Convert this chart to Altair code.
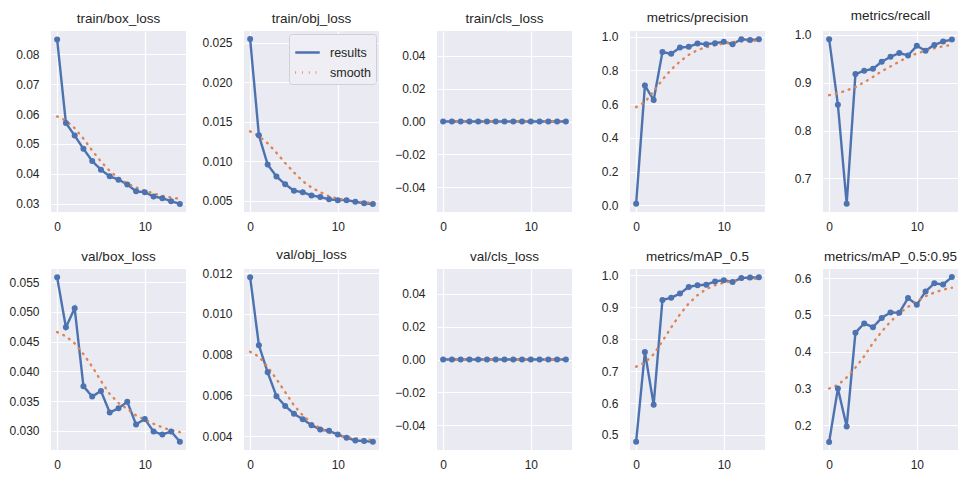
import altair as alt
import pandas as pd

epochs = list(range(15))

train_box_loss = [0.0849, 0.0570, 0.0528, 0.0484, 0.0443, 0.0414, 0.0392, 0.0381, 0.0365, 0.0342, 0.0339, 0.0325, 0.0319, 0.0309, 0.0300]
train_box_loss_smooth = [0.0592, 0.0578, 0.0553, 0.0518, 0.0478, 0.0441, 0.0410, 0.0386, 0.0368, 0.0355, 0.0344, 0.0335, 0.0327, 0.0321, 0.0317]

train_obj_loss = [0.0255, 0.0133, 0.0096, 0.0081, 0.0071, 0.0063, 0.0061, 0.0057, 0.0055, 0.0052, 0.0051, 0.0051, 0.0049, 0.0047, 0.0046]
train_obj_loss_smooth = [0.0138, 0.0132, 0.0123, 0.0111, 0.0098, 0.0086, 0.0075, 0.0067, 0.0061, 0.0056, 0.0053, 0.0051, 0.0050, 0.0048, 0.0048]

train_cls_loss = [0.0] * 15
train_cls_loss_smooth = [0.0] * 15

precision = [0.010, 0.710, 0.624, 0.908, 0.898, 0.935, 0.939, 0.959, 0.955, 0.961, 0.969, 0.955, 0.984, 0.980, 0.984]
precision_smooth = [0.582, 0.612, 0.676, 0.745, 0.804, 0.853, 0.892, 0.920, 0.937, 0.949, 0.959, 0.967, 0.971, 0.975, 0.976]

recall = [0.991, 0.854, 0.647, 0.918, 0.925, 0.929, 0.944, 0.954, 0.962, 0.957, 0.977, 0.967, 0.979, 0.986, 0.990]
recall_smooth = [0.874, 0.878, 0.884, 0.891, 0.901, 0.912, 0.924, 0.934, 0.944, 0.954, 0.961, 0.967, 0.972, 0.976, 0.979]

val_box_loss = [0.0558, 0.0474, 0.0506, 0.0375, 0.0358, 0.0367, 0.0331, 0.0338, 0.0349, 0.0311, 0.0320, 0.0299, 0.0294, 0.0299, 0.0282]
val_box_loss_smooth = [0.0466, 0.0459, 0.0447, 0.0429, 0.0408, 0.0384, 0.0362, 0.0347, 0.0337, 0.0326, 0.0319, 0.0312, 0.0306, 0.0301, 0.0298]

val_obj_loss = [0.0118, 0.00846, 0.00713, 0.00596, 0.00548, 0.00510, 0.00483, 0.00454, 0.00432, 0.00426, 0.00408, 0.00392, 0.00379, 0.00376, 0.00372]
val_obj_loss_smooth = [0.00814, 0.00790, 0.00740, 0.00680, 0.00616, 0.00551, 0.00502, 0.00465, 0.00438, 0.00418, 0.00405, 0.00395, 0.00389, 0.00384, 0.00381]

val_cls_loss = [0.0] * 15
val_cls_loss_smooth = [0.0] * 15

map50 = [0.479, 0.760, 0.595, 0.923, 0.930, 0.943, 0.964, 0.969, 0.971, 0.981, 0.985, 0.979, 0.992, 0.993, 0.994]
map50_smooth = [0.714, 0.727, 0.753, 0.794, 0.837, 0.878, 0.912, 0.938, 0.957, 0.969, 0.977, 0.982, 0.987, 0.989, 0.990]

map50_95 = [0.155, 0.300, 0.197, 0.452, 0.477, 0.467, 0.492, 0.507, 0.506, 0.546, 0.528, 0.564, 0.586, 0.583, 0.603]
map50_95_smooth = [0.300, 0.310, 0.330, 0.357, 0.388, 0.424, 0.455, 0.482, 0.504, 0.522, 0.537, 0.551, 0.561, 0.569, 0.574]

BLUE = "#4C72B0"
ORANGE = "#DD8452"
FONT = "Liberation Sans"
TXT = "#262626"
W, H = 135, 181


def panel(title, res, smo, domain, ticks, fmt, legend=False):
    df = pd.DataFrame({
        "epoch": epochs + epochs,
        "value": res + smo,
        "series": ["results"] * len(res) + ["smooth"] * len(smo),
    })
    x = alt.X("epoch:Q", scale=alt.Scale(domain=[-0.7, 14.7], nice=False, zero=False),
              axis=alt.Axis(values=[0, 10], format="d", title=None))
    y = alt.Y("value:Q", scale=alt.Scale(domain=domain, nice=False, zero=False),
              axis=alt.Axis(values=ticks, format=fmt, title=None))
    if legend:
        leg = alt.Legend(title=None, orient="top-right", offset=3, fillColor="#EEEEF4",
                         strokeColor="#D0D0D6", padding=5, cornerRadius=3,
                         symbolType="stroke", symbolSize=600, symbolStrokeWidth=2.5,
                         labelFontSize=12.5, labelColor=TXT, labelFont=FONT, rowPadding=0,
                         labelOffset=9)
    else:
        leg = None
    base = alt.Chart(df)
    lines = base.mark_line(strokeWidth=2.4, strokeCap="round").encode(
        x=x, y=y,
        color=alt.Color("series:N", scale=alt.Scale(domain=["results", "smooth"], range=[BLUE, ORANGE]), legend=leg),
        strokeDash=alt.StrokeDash("series:N", scale=alt.Scale(domain=["results", "smooth"], range=[[1, 0], [0.8, 6]]), legend=leg),
    )
    pts = base.transform_filter(alt.datum.series == "results").mark_point(
        filled=True, size=36, opacity=1).encode(x=x, y=y, color=alt.value(BLUE))
    return alt.layer(lines, pts).properties(width=W, height=H, title=title)


row1 = alt.hconcat(
    panel("train/box_loss", train_box_loss, train_box_loss_smooth, [0.0273, 0.0877], [0.03, 0.04, 0.05, 0.06, 0.07, 0.08], ".2f"),
    panel("train/obj_loss", train_obj_loss, train_obj_loss_smooth, [0.0036, 0.0265], [0.005, 0.010, 0.015, 0.020, 0.025], ".3f", legend=True),
    panel("train/cls_loss", train_cls_loss, train_cls_loss_smooth, [-0.055, 0.055], [-0.04, -0.02, 0.0, 0.02, 0.04], ".2f"),
    panel("metrics/precision", precision, precision_smooth, [-0.039, 1.033], [0.0, 0.2, 0.4, 0.6, 0.8, 1.0], ".1f"),
    panel("metrics/recall", recall, recall_smooth, [0.630, 1.008], [0.7, 0.8, 0.9, 1.0], ".1f"),
    spacing=58, bounds="flush",
).resolve_scale(color="independent", strokeDash="independent")

row2 = alt.hconcat(
    panel("val/box_loss", val_box_loss, val_box_loss_smooth, [0.0268, 0.0572], [0.030, 0.035, 0.040, 0.045, 0.050, 0.055], ".3f"),
    panel("val/obj_loss", val_obj_loss, val_obj_loss_smooth, [0.00332, 0.0122], [0.004, 0.006, 0.008, 0.010, 0.012], ".3f"),
    panel("val/cls_loss", val_cls_loss, val_cls_loss_smooth, [-0.055, 0.055], [-0.04, -0.02, 0.0, 0.02, 0.04], ".2f"),
    panel("metrics/mAP_0.5", map50, map50_smooth, [0.453, 1.020], [0.5, 0.6, 0.7, 0.8, 0.9, 1.0], ".1f"),
    panel("metrics/mAP_0.5:0.95", map50_95, map50_95_smooth, [0.133, 0.625], [0.2, 0.3, 0.4, 0.5, 0.6], ".1f"),
    spacing=58, bounds="flush",
).resolve_scale(color="independent", strokeDash="independent")

chart = alt.vconcat(row1, row2, spacing=15).resolve_scale(
    color="independent", strokeDash="independent"
).properties(padding={"left": 0, "top": 1, "right": 0, "bottom": 0}, background="white").configure_view(
    fill="#EAEAF2", stroke=None
).configure_axis(
    domain=False, ticks=False, grid=True, gridColor="white", gridWidth=1.2,
    labelFont=FONT, labelFontSize=12, labelColor=TXT,
).configure_axisY(labelPadding=12).configure_axisX(labelPadding=9).configure_title(
    font=FONT, fontSize=13.5, fontWeight="normal", color=TXT, offset=6
)

chart.save("out.html", embed_options={"renderer": "svg", "actions": False})
